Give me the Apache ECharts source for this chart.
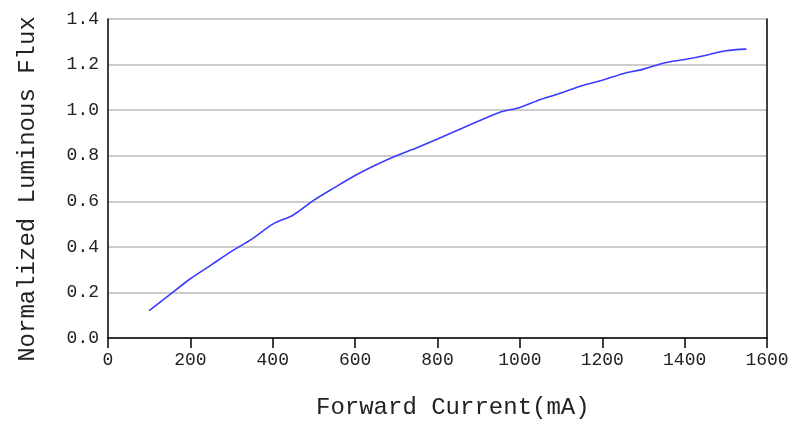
<!DOCTYPE html>
<html>
<head>
<meta charset="utf-8">
<script src="https://cdn.jsdelivr.net/npm/echarts@6/dist/echarts.min.js"></script>
<style>html,body{margin:0;padding:0;background:#fff}#c{width:792px;height:422px}</style>
</head>
<body>
<div id="c"></div>
<script>
const currents = [100,150,200,250,300,350,400,450,500,550,600,650,700,750,800,850,900,950,1000,1050,1100,1150,1200,1250,1300,1350,1400,1450,1500,1550];
const flux = [0.12,0.19,0.26,0.32,0.38,0.435,0.50,0.54,0.605,0.66,0.713,0.759,0.80,0.835,0.873,0.913,0.952,0.99,1.012,1.047,1.075,1.107,1.131,1.16,1.18,1.207,1.222,1.24,1.261,1.268];
const xTitle = 'Forward Current(mA)';
const yTitle = 'Normalized Luminous Flux';

const font = 'Liberation Mono';
const txt = '#222';
const chart = echarts.init(document.getElementById('c'));
chart.setOption({
  animation: false,
  backgroundColor: '#fff',
  grid: {left: 108, right: 25, top: 19, bottom: 84, outerBoundsMode: 'none', containLabel: false},
  xAxis: {
    type: 'value', min: 0, max: 1600, interval: 200,
    axisLine: {show: true, lineStyle: {color: '#000', width: 1.5}},
    axisTick: {show: true, length: 10, lineStyle: {color: '#000', width: 1.5}},
    axisLabel: {color: txt, fontFamily: font, fontSize: 18, margin: 13, formatter: v => String(v)},
    splitLine: {show: false}
  },
  yAxis: [{
    type: 'value', min: 0, max: 1.4, interval: 0.2,
    axisLine: {show: true, lineStyle: {color: '#000', width: 1.5}},
    axisTick: {show: false},
    axisLabel: {color: txt, fontFamily: font, fontSize: 18, margin: 9, formatter: v => v.toFixed(1)},
    splitLine: {show: true, lineStyle: {color: '#bbb', width: 1.5}}
  }, {
    type: 'value', min: 0, max: 1.4, interval: 0.2, position: 'right',
    axisLine: {show: true, lineStyle: {color: '#000', width: 1.5}},
    axisTick: {show: false}, axisLabel: {show: false}, splitLine: {show: false}
  }],
  graphic: [
    {type: 'text', left: 316, top: 396, style: {text: xTitle, font: '24px "Liberation Mono"', fill: txt}},
    {type: 'text', x: 28, y: 189, rotation: Math.PI/2, style: {text: yTitle, font: '24px "Liberation Mono"', fill: txt, align: 'center', verticalAlign: 'middle'}}
  ],
  series: [{
    type: 'line', data: currents.map((c, i) => [c, flux[i]]),
    showSymbol: false, smooth: 0.3,
    lineStyle: {color: '#3b3bff', width: 1.6}
  }]
});
</script>
</body>
</html>
